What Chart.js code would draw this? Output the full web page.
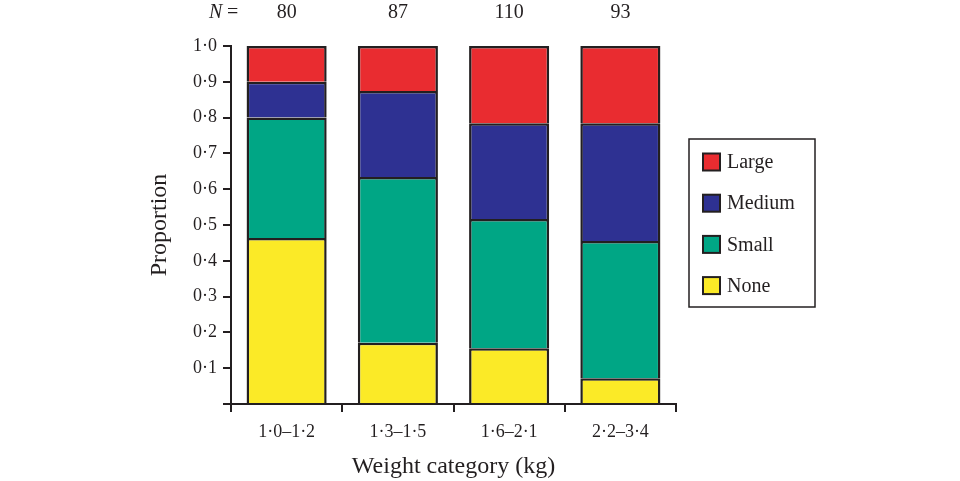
<!DOCTYPE html>
<html>
<head>
<meta charset="utf-8">
<script src="https://cdn.jsdelivr.net/npm/chart.js@4.4.1/dist/chart.umd.min.js"></script>
<style>
  html, body { margin: 0; padding: 0; background: #fff; }
  #wrap { width: 960px; height: 481px; }
</style>
</head>
<body>
<div id="wrap"><canvas id="chart" width="960" height="481"></canvas></div>
<script>
// weight classes and sample sizes
var categories = ['1·0–1·2', '1·3–1·5', '1·6–2·1', '2·2–3·4'];
var nCounts = [80, 87, 110, 93];

// proportions per category (stacked bottom to top)
var none   = [0.464, 0.171, 0.156, 0.072];
var small  = [0.336, 0.463, 0.361, 0.383];
var medium = [0.100, 0.240, 0.267, 0.329];
var large  = [0.100, 0.126, 0.216, 0.216];

var ink = '#231f20';
var serif = "'Liberation Serif', 'Times New Roman', serif";

function dot(v) { return v.toFixed(1).replace('.', '·'); }

function series(label, data, color) {
  return {
    label: label,
    data: data,
    backgroundColor: color,
    borderColor: ink,
    borderWidth: 2.5,
    borderSkipped: 'start',
    barPercentage: 0.72,
    categoryPercentage: 1
  };
}

// N = counts above bars + boxed legend on the right
var extras = {
  id: 'extras',
  afterDraw: function(chart) {
    var ctx = chart.ctx;
    var meta = chart.getDatasetMeta(0);
    ctx.save();
    ctx.fillStyle = ink;
    ctx.textBaseline = 'middle';
    ctx.font = '20px ' + serif;
    ctx.textAlign = 'center';
    meta.data.forEach(function(bar, i) {
      ctx.fillText(String(nCounts[i]), bar.x, 13);
    });
    ctx.textAlign = 'left';
    ctx.font = 'italic 20px ' + serif;
    ctx.fillText('N', 209, 13);
    ctx.font = '20px ' + serif;
    ctx.fillText('=', 227, 13);

    // legend
    ctx.strokeStyle = ink;
    ctx.lineWidth = 1.5;
    ctx.fillStyle = '#fff';
    ctx.fillRect(689, 139, 126, 168);
    ctx.strokeRect(689, 139, 126, 168);
    var ds = chart.data.datasets.slice().reverse();
    ds.forEach(function(d, i) {
      var cy = 162 + i * 41.2;
      ctx.fillStyle = d.backgroundColor;
      ctx.fillRect(703, cy - 8.5, 17, 17);
      ctx.lineWidth = 2;
      ctx.strokeRect(703, cy - 8.5, 17, 17);
      ctx.fillStyle = ink;
      ctx.font = '20px ' + serif;
      ctx.fillText(d.label, 727, cy + 1);
    });
    ctx.restore();
  }
};

new Chart(document.getElementById('chart'), {
  type: 'bar',
  data: {
    labels: categories,
    datasets: [
      series('None', none, '#fbea27'),
      series('Small', small, '#00a685'),
      series('Medium', medium, '#2e3192'),
      series('Large', large, '#e92c30')
    ]
  },
  options: {
    responsive: false,
    animation: false,
    layout: { padding: { top: 46, right: 284, left: 140, bottom: 0 } },
    plugins: {
      legend: { display: false },
      tooltip: { enabled: false }
    },
    scales: {
      x: {
        stacked: true,
        afterFit: function(s) { s.height = 77; },
        grid: { drawOnChartArea: false, drawTicks: true, tickLength: 8, color: ink, lineWidth: 2, offset: true },
        border: { display: true, color: ink, width: 2 },
        ticks: { color: ink, padding: 9, font: { family: serif, size: 18 } },
        title: { display: true, text: 'Weight category (kg)', color: ink, padding: { top: 0, bottom: 0 }, font: { family: serif, size: 24 } }
      },
      y: {
        stacked: true,
        min: 0,
        max: 1,
        afterFit: function(s) { s.width = 91; },
        grid: { drawOnChartArea: false, drawTicks: true, tickLength: 8, color: ink, lineWidth: 2 },
        border: { display: true, color: ink, width: 2 },
        ticks: {
          stepSize: 0.1,
          color: ink,
          padding: 6,
          font: { family: serif, size: 18 },
          callback: function(v) { return v === 0 ? '' : dot(v); }
        },
        title: { display: true, text: 'Proportion', color: ink, padding: { top: 5, bottom: 0 }, font: { family: serif, size: 24 } }
      }
    }
  },
  plugins: [extras]
});
</script>
</body>
</html>
